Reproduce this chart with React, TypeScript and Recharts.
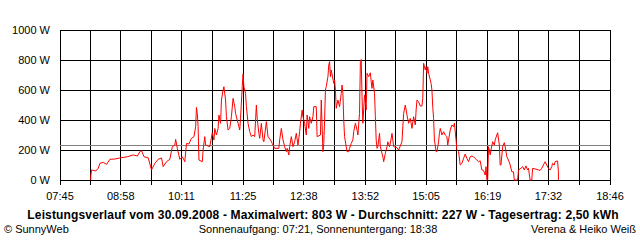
import { CartesianGrid, Line, LineChart, ReferenceLine, XAxis, YAxis } from "recharts";

// samples (clock time, watts)
const times = [
  "08:22", "08:22", "08:23", "08:28", "08:31", "08:33", "08:37", "08:41", "08:45", "08:51",
  "08:57", "09:06", "09:13", "09:18", "09:21", "09:23", "09:26", "09:31", "09:35", "09:39",
  "09:43", "09:47", "09:49", "09:53", "09:57", "10:00", "10:03", "10:04", "10:06", "10:09",
  "10:12", "10:15", "10:17", "10:20", "10:23", "10:26", "10:28", "10:29", "10:30", "10:31",
  "10:32", "10:36", "10:37", "10:39", "10:40", "10:45", "10:48", "10:50", "10:51", "10:53",
  "10:55", "10:56", "10:58", "10:59", "11:01", "11:02", "11:04", "11:05", "11:07", "11:09",
  "11:11", "11:13", "11:15", "11:16", "11:18", "11:20", "11:21", "11:22", "11:24", "11:25",
  "11:26", "11:28", "11:29", "11:31", "11:33", "11:35", "11:37", "11:39", "11:41", "11:42",
  "11:44", "11:45", "11:47", "11:49", "11:50", "11:53", "11:55", "11:58", "12:00", "12:01",
  "12:03", "12:08", "12:09", "12:11", "12:13", "12:15", "12:17", "12:18", "12:20", "12:21",
  "12:23", "12:25", "12:27", "12:29", "12:31", "12:33", "12:34", "12:36", "12:37", "12:39",
  "12:41", "12:42", "12:44", "12:45", "12:47", "12:49", "12:50", "12:53", "12:54", "12:58",
  "12:59", "13:01", "13:02", "13:03", "13:04", "13:05", "13:07", "13:08", "13:09", "13:10",
  "13:11", "13:14", "13:15", "13:16", "13:17", "13:19", "13:21", "13:23", "13:24", "13:25",
  "13:26", "13:27", "13:29", "13:30", "13:32", "13:33", "13:35", "13:37", "13:38", "13:40",
  "13:42", "13:43", "13:45", "13:46", "13:47", "13:48", "13:49", "13:51", "13:52", "13:53",
  "13:54", "13:56", "13:58", "13:59", "14:00", "14:01", "14:03", "14:04", "14:05", "14:06",
  "14:07", "14:09", "14:10", "14:13", "14:14", "14:16", "14:18", "14:19", "14:21", "14:22",
  "14:24", "14:26", "14:30", "14:32", "14:36", "14:37", "14:38", "14:40", "14:42", "14:44",
  "14:46", "14:48", "14:50", "14:52", "14:53", "14:54", "14:56", "14:58", "15:00", "15:01",
  "15:02", "15:04", "15:05", "15:06", "15:07", "15:08", "15:10", "15:11", "15:12", "15:13",
  "15:14", "15:15", "15:17", "15:18", "15:20", "15:21", "15:22", "15:24", "15:26", "15:28",
  "15:30", "15:31", "15:32", "15:34", "15:36", "15:38", "15:39", "15:41", "15:42", "15:44",
  "15:46", "15:48", "15:50", "15:52", "15:54", "15:56", "15:58", "16:00", "16:02", "16:04",
  "16:06", "16:08", "16:10", "16:12", "16:14", "16:16", "16:17", "16:18", "16:19", "16:20",
  "16:22", "16:23", "16:25", "16:27", "16:28", "16:30", "16:31", "16:33", "16:34", "16:35",
  "16:37", "16:39", "16:40", "16:42", "16:44", "16:46", "16:48", "16:50", "16:51", "16:55",
  "16:56", "16:59", "17:01", "17:03", "17:05", "17:07", "17:08", "17:10", "17:12", "17:13",
  "17:17", "17:20", "17:22", "17:24", "17:26", "17:28", "17:30", "17:32", "17:34", "17:36",
  "17:37", "17:39", "17:40", "17:43", "17:44", "17:44",
];

const watts = [
  0, 27, 67, 60, 78, 111, 118, 104, 138, 140,
  147, 155, 167, 160, 189, 195, 155, 148, 67, 111,
  138, 147, 89, 122, 138, 222, 233, 271, 211, 138,
  155, 122, 244, 240, 278, 289, 355, 484, 444, 355,
  133, 122, 200, 289, 233, 222, 315, 267, 344, 300,
  344, 433, 378, 533, 600, 622, 533, 422, 333, 344,
  422, 544, 489, 444, 400, 355, 333, 411, 622, 707,
  622, 578, 489, 378, 322, 289, 300, 289, 500, 411,
  311, 278, 378, 267, 255, 389, 289, 267, 244, 233,
  211, 211, 267, 344, 267, 222, 189, 211, 167, 222,
  289, 222, 255, 311, 233, 322, 378, 467, 422, 378,
  300, 433, 344, 422, 378, 422, 489, 489, 289, 300,
  533, 189, 244, 400, 600, 622, 689, 767, 789, 689,
  733, 644, 667, 600, 478, 533, 489, 578, 633, 578,
  400, 289, 222, 189, 189, 211, 244, 267, 322, 378,
  333, 300, 444, 789, 803, 555, 378, 567, 522, 467,
  711, 689, 715, 655, 611, 667, 578, 422, 267, 211,
  222, 311, 222, 155, 122, 178, 222, 255, 222, 244,
  311, 222, 215, 200, 255, 355, 444, 500, 433, 378,
  411, 344, 422, 367, 467, 533, 522, 493, 493, 544,
  778, 733, 755, 711, 755, 711, 667, 644, 600, 484,
  411, 267, 189, 189, 255, 311, 344, 300, 322, 300,
  289, 233, 267, 333, 367, 355, 378, 267, 200, 189,
  100, 111, 144, 173, 144, 122, 155, 160, 155, 143,
  133, 122, 128, 67, 64, 33, 89, 0, 0, 222,
  167, 200, 255, 233, 267, 300, 315, 233, 100, 100,
  222, 249, 222, 155, 133, 100, 55, 55, 0, 0,
  67, 78, 89, 67, 94, 67, 78, 0, 0, 78,
  72, 67, 64, 78, 100, 122, 100, 78, 67, 89,
  111, 100, 122, 127, 55, 0,
];

const tickLabels = ["07:45", "08:58", "10:11", "11:25", "12:38", "13:52", "15:05", "16:19", "17:32", "18:46"];
const yTicks = [0, 200, 400, 600, 800, 1000];
const average = 227;

const toMin = (s: string) => {
  const [h, m] = s.split(":").map(Number);
  return h * 60 + m;
};

const data = times.map((t, i) => ({ t: toMin(t), w: watts[i] }));

// labelled ticks plus an unlabelled grid line halfway between each pair
const labelTicks = tickLabels.map(toMin);
const xTicks: number[] = [];
labelTicks.forEach((v, i) => {
  xTicks.push(v);
  if (i < labelTicks.length - 1) xTicks.push((v + labelTicks[i + 1]) / 2);
});
const labelAt = new Map(labelTicks.map((v, i) => [v, tickLabels[i]]));

const font = '"Liberation Sans", Arial, sans-serif';

export default function App() {
  return (
    <div
      style={{
        position: "absolute",
        left: 0,
        top: 0,
        width: 640,
        height: 240,
        background: "#fff",
        fontFamily: font,
        color: "#000",
      }}
    >
      <style>{`.recharts-cartesian-grid line, .recharts-reference-line line, .recharts-cartesian-axis-tick-line { shape-rendering: crispEdges; }`}</style>
      <LineChart width={640} height={208} data={data} margin={{ top: 30, right: 30, left: 0, bottom: 0 }}>
        <CartesianGrid stroke="#000" strokeOpacity={1} />
        <XAxis
          dataKey="t"
          type="number"
          domain={[labelTicks[0], labelTicks[labelTicks.length - 1]]}
          ticks={xTicks}
          interval={0}
          height={28}
          axisLine={false}
          tickLine={{ stroke: "#000" }}
          tickSize={5}
          tickMargin={7}
          tick={{ fill: "#000", fontSize: 11, fontFamily: font }}
          tickFormatter={(v: number) => labelAt.get(v) ?? ""}
        />
        <YAxis
          type="number"
          domain={[0, 1000]}
          ticks={yTicks}
          interval={0}
          width={60}
          axisLine={false}
          tickLine={false}
          tickSize={8}
          tickMargin={2}
          tick={{ fill: "#000", fontSize: 11, fontFamily: font }}
          tickFormatter={(v: number) => `${v} W`}
        />
        <ReferenceLine y={average} stroke="#808080" strokeWidth={1} ifOverflow="visible" />
        <Line
          type="linear"
          dataKey="w"
          stroke="#ff0000"
          strokeWidth={1}
          dot={false}
          activeDot={false}
          isAnimationActive={false}
        />
      </LineChart>
      <div
        style={{
          position: "absolute",
          top: 208,
          left: 0,
          width: 646,
          textAlign: "center",
          fontSize: 12,
          letterSpacing: 0.15,
          fontWeight: "bold",
          lineHeight: "14px",
          whiteSpace: "nowrap",
        }}
      >
        Leistungsverlauf vom 30.09.2008 - Maximalwert: 803 W - Durchschnitt: 227 W - Tagesertrag: 2,50 kWh
      </div>
      <div style={{ position: "absolute", top: 223, left: 4, fontSize: 11, lineHeight: "13px" }}>© SunnyWeb</div>
      <div
        style={{
          position: "absolute",
          top: 223,
          left: 0,
          width: 636,
          textAlign: "center",
          fontSize: 11,
          lineHeight: "13px",
        }}
      >
        Sonnenaufgang: 07:21, Sonnenuntergang: 18:38
      </div>
      <div style={{ position: "absolute", top: 223, right: 4, fontSize: 11, lineHeight: "13px" }}>
        Verena &amp; Heiko Weiß
      </div>
    </div>
  );
}
